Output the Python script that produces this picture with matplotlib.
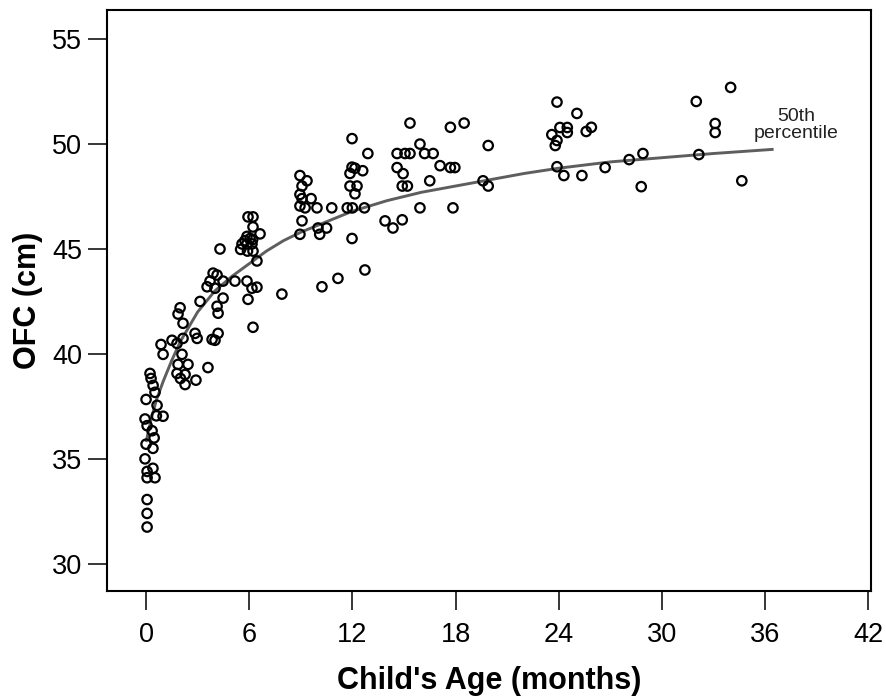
import matplotlib
matplotlib.use('Agg')
import matplotlib.pyplot as plt
import numpy as np

plt.rcParams['font.family'] = ['Liberation Sans', 'DejaVu Sans']

# child age (months) and head circumference (cm)
age = [0.06, 0.06, 0.06, 0.06, 0.52, 0.06, 0.40, -0.06, 0.40, 0.0,
       0.47, 0.35, 0.06, -0.06, 0.6, 0.99, 0.64, 0.0, 0.52, 0.41,
       0.29, 0.23,
       0.87, 1.51, 0.99, 1.8, 2.15, 2.97, 3.84, 2.09, 1.86, 2.44,
       1.8, 2.0, 2.27, 2.27, 2.9, 3.6, 1.98, 1.86, 2.15, 3.14, 2.85,
       5.93, 6.22, 6.22, 6.63, 5.87, 6.05, 5.75, 6.2, 5.58, 5.87,
       6.16, 5.5, 5.9, 6.22, 4.3, 6.45, 3.9, 4.13, 3.72, 3.55, 4.01,
       4.48, 5.17, 5.87, 6.16, 6.45, 4.48, 4.13, 4.19, 5.93, 6.22,
       4.19, 4.01,
       7.9, 10.23, 11.16, 12.73, 11.98, 8.95, 10.0, 10.1, 10.5,
       8.95, 9.36, 9.07, 8.95, 9.07, 9.6, 8.95, 9.25, 9.94, 10.8,
       9.07, 11.98, 11.98, 12.15, 12.6, 11.86, 11.86, 12.27, 12.15,
       11.7, 12.0, 12.7, 12.9,
       14.6, 15.06, 15.35, 14.6, 14.95, 14.9, 15.2, 13.9, 14.36, 14.9,
       15.35, 15.93, 15.93, 16.2, 16.7, 17.1, 16.5, 17.7, 17.96, 17.7,
       18.5, 17.85, 19.9, 19.6, 19.9,
       23.9, 25.06, 23.6, 24.07, 24.5, 24.5, 23.9, 23.8, 25.6, 25.9,
       23.9, 24.3, 25.35, 26.7, 28.1, 28.9, 28.8,
       32.0, 34.0, 33.1, 33.1, 32.15, 34.65]
ofc = [31.75, 32.4, 33.06, 34.1, 34.1, 34.4, 34.55, 35.0, 35.5, 35.7,
       36.0, 36.34, 36.58, 36.9, 37.05, 37.03, 37.55, 37.83, 38.17, 38.5,
       38.83, 39.07,
       40.45, 40.65, 39.98, 40.5, 40.74, 40.74, 40.69, 39.98, 39.5, 39.5,
       39.07, 38.83, 39.02, 38.54, 38.75, 39.35, 42.2, 41.9, 41.46, 42.5, 40.98,
       46.53, 46.53, 46.05, 45.72, 45.6, 45.5, 45.4, 45.45, 45.24, 45.24,
       45.24, 44.98, 44.9, 44.9, 45.0, 44.43, 43.85, 43.76, 43.47, 43.2, 43.13,
       43.47, 43.47, 43.47, 43.13, 43.18, 42.66, 42.27, 41.94, 42.6, 41.27,
       40.98, 40.65,
       42.85, 43.2, 43.6, 44.0, 45.5, 45.7, 46.0, 45.7, 46.0,
       48.5, 48.25, 48.0, 47.6, 47.4, 47.4, 47.05, 46.96, 46.96, 46.96,
       46.34, 50.26, 48.9, 48.85, 48.73, 48.6, 48.0, 48.0, 47.63,
       46.96, 46.96, 46.96, 49.55,
       49.55, 49.55, 49.55, 48.88, 48.59, 48.0, 48.0, 46.34, 46.0, 46.39,
       51.0, 46.96, 50.0, 49.55, 49.55, 48.97, 48.25, 48.88, 48.88, 50.8,
       51.0, 46.96, 49.93, 48.25, 48.0,
       52.0, 51.46, 50.45, 50.79, 50.79, 50.55, 50.17, 49.93, 50.6, 50.8,
       48.92, 48.5, 48.5, 48.88, 49.26, 49.55, 47.97,
       52.03, 52.7, 50.98, 50.55, 49.5, 48.25]

# 50th percentile curve
curve_age = [0.0, 0.3, 0.6, 1.0, 1.5, 2.0, 2.5, 3.0, 4.0, 5.0, 6.0, 7.0, 8.0,
             9.0, 10.5, 12.0, 14.0, 16.0, 18.0, 20.0, 22.0, 24.0, 27.0, 30.0,
             33.0, 36.5]
curve_ofc = [35.8, 36.9, 37.8, 38.7, 39.7, 40.6, 41.3, 42.0, 43.0, 43.7, 44.3,
             44.9, 45.4, 45.8, 46.3, 46.8, 47.3, 47.7, 48.0, 48.3, 48.6, 48.85,
             49.15, 49.35, 49.55, 49.75]

x_ticks = [0, 6, 12, 18, 24, 30, 36, 42]
y_ticks = [30, 35, 40, 45, 50, 55]

fig = plt.figure(figsize=(8.86, 6.97), dpi=100)
ax = fig.add_axes([0.1208, 0.152, 0.862, 0.834])

ax.plot(curve_age, curve_ofc, color='#5e5e5e', linewidth=2.1, zorder=2,
        solid_capstyle='butt')
ax.scatter(age, ofc, s=46, facecolors='none', edgecolors='black',
           linewidths=1.6, zorder=3)

ax.text(37.8, 50.9, '50th\npercentile', ha='center', va='center',
        fontsize=14, linespacing=1.0, color='#222222')

ax.set_xlim(-2.27, 42.15)
ax.set_ylim(28.7, 56.4)
ax.set_xticks(x_ticks)
ax.set_yticks(y_ticks)
ax.tick_params(axis='both', direction='out', length=14, width=1.1,
               labelsize=19.5, colors='black')
ax.tick_params(axis='x', pad=8)
ax.tick_params(axis='y', pad=4)
for sp in ax.spines.values():
    sp.set_linewidth(1.5)

ax.set_xlabel("Child's Age (months)", fontsize=22, fontweight='bold', labelpad=13)
ax.set_ylabel('OFC (cm)', fontsize=22, fontweight='bold', labelpad=6)

plt.savefig('out.png', dpi=100)
plt.close()
